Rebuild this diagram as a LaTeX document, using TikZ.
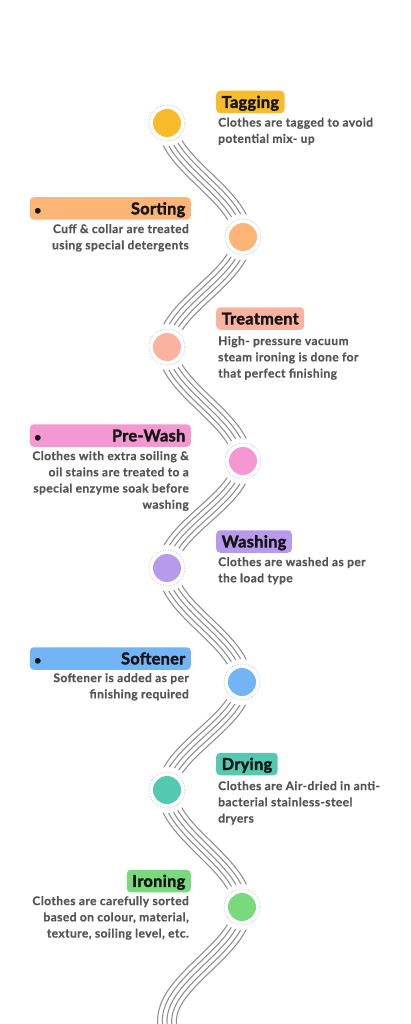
\documentclass[tikz,border=0pt]{standalone}
\usepackage{fontspec}
\setmainfont{Lato}
\newfontfamily\descfont[LetterSpace=3.5,BoldFeatures={FakeBold=0.6}]{Lato}
\newfontfamily\titlefont[LetterSpace=2,BoldFeatures={FakeBold=2}]{Lato}
\definecolor{cTag}{HTML}{F9BB2C}
\definecolor{cSort}{HTML}{FDB477}
\definecolor{cTreat}{HTML}{F9B3A0}
\definecolor{cPre}{HTML}{F398D0}
\definecolor{cWash}{HTML}{B79AEC}
\definecolor{cSoft}{HTML}{73B4F6}
\definecolor{cDry}{HTML}{55C8B1}
\definecolor{cIron}{HTML}{78DA7C}
\definecolor{waveGray}{HTML}{8E8E8E}
\definecolor{ringGray}{HTML}{A3A7AD}
\definecolor{titleInk}{HTML}{151515}
\definecolor{descInk}{HTML}{555555}
\begin{document}
\begin{tikzpicture}[x=1pt,y=-1pt,
  wave/.style={draw=waveGray, line width=1.05pt},
  halo/.style={circle, fill=white, minimum size=46pt, inner sep=0pt},
  ringline/.style={draw=ringGray, line width=0.55pt, dash pattern=on 0.55pt off 1.1pt},
  stepdot/.style={circle, minimum size=28pt, inner sep=0pt},
  titlebox/.style={rounded corners=4pt, minimum height=22.5pt, inner xsep=5.5pt, inner ysep=0pt,
    text height=11.7pt, text depth=0pt, font=\fontsize{16.3}{18}\titlefont\bfseries, text=titleInk},
  desc/.style={inner sep=0pt, font=\fontsize{12}{16.2}\descfont\bfseries, text=descInk},
  declare function={wm(\t,\h,\s)=\s*37.75*pi/\h*sin(180*\t);}
]
\useasboundingbox (0,0) rectangle (410,1024);
\clip (0,0) rectangle (410,1024);
\fill[white] (0,0) rectangle (410,1024);

% wavy ribbon of five lines
\foreach \ya/\yb/\s/\te [evaluate=\ya as \h using \yb-\ya] in
  {123/237/-1/1, 237/347/1/1, 347/461/-1/1, 461/568/1/1, 568/682/-1/1, 682/790/1/1, 790/907/-1/1, 907/1021/1/1.15}
  \foreach \d in {-9.4,-4.7,0,4.7,9.4}
    \draw[wave] plot[domain=0:\te, samples=60, smooth, variable=\t]
      ({204.75+\s*37.75*cos(180*\t)+(\d)/sqrt(1+wm(\t,\h,\s)*wm(\t,\h,\s))},
       {\ya+\h*\t+(\d)*wm(\t,\h,\s)/sqrt(1+wm(\t,\h,\s)*wm(\t,\h,\s))});

% circles
\foreach \n/\x/\y/\c in {1/167/123/cTag, 2/243/237/cSort, 3/167/347/cTreat, 4/243/461/cPre,
                         5/167/568/cWash, 6/242/682/cSoft, 7/167/790/cDry, 8/242/907/cIron}{
  \node[halo] (h\n) at (\x,\y) {};
  \node[stepdot, fill=\c] (c\n) at (\x,\y) {};
  \draw[ringline] (c\n.center) circle[radius=18pt];
}

% titles
\node[titlebox, fill=cTag, anchor=west] (t1) at (216,102) {Tagging};
\node[titlebox, fill=cSort, anchor=east] (t2) at (191,208.5) {\makebox[150pt]{\kern-1pt{\fontsize{12}{12}\selectfont\textbullet}\hfill Sorting}};
\node[titlebox, fill=cTreat, anchor=west] (t3) at (216,318.5) {Treatment};
\node[titlebox, fill=cPre, anchor=east] (t4) at (191,435.5) {\makebox[150pt]{\kern-1pt{\fontsize{12}{12}\selectfont\textbullet}\hfill Pre-Wash}};
\node[titlebox, fill=cWash, anchor=west] (t5) at (216,541.5) {Washing};
\node[titlebox, fill=cSoft, anchor=east] (t6) at (191,658.5) {\makebox[150pt]{\kern-1pt{\fontsize{12}{12}\selectfont\textbullet}\hfill Softener}};
\node[titlebox, fill=cDry, anchor=west] (t7) at (216,764) {Drying};
\node[titlebox, fill=cIron, anchor=east] (t8) at (191,881) {Ironing};

% descriptions
\node[desc, anchor=north west, align=left] (d1) at (218,117.5) {Clothes are tagged to avoid\\potential mix- up};
\node[desc, anchor=north east, align=right] (d2) at (189,224) {Cuff \& collar are treated\\using special detergents};
\node[desc, anchor=north west, align=left] (d3) at (218,336) {High- pressure vacuum\\steam ironing is done for\\that perfect finishing};
\node[desc, anchor=north east, align=right] (d4) at (189,451) {Clothes with extra soiling \&\\oil stains are treated to a\\special enzyme soak before\\washing};
\node[desc, anchor=north west, align=left] (d5) at (218,557) {Clothes are washed as per\\the load type};
\node[desc, anchor=north east, align=right] (d6) at (189,673) {Softener is added as per\\finishing required};
\node[desc, anchor=north west, align=left] (d7) at (218,781) {Clothes are Air-dried in anti-\\bacterial stainless-steel\\dryers};
\node[desc, anchor=north east, align=right] (d8) at (189,896) {Clothes are carefully sorted\\based on colour, material,\\texture, soiling level, etc.};
\end{tikzpicture}
\end{document}
